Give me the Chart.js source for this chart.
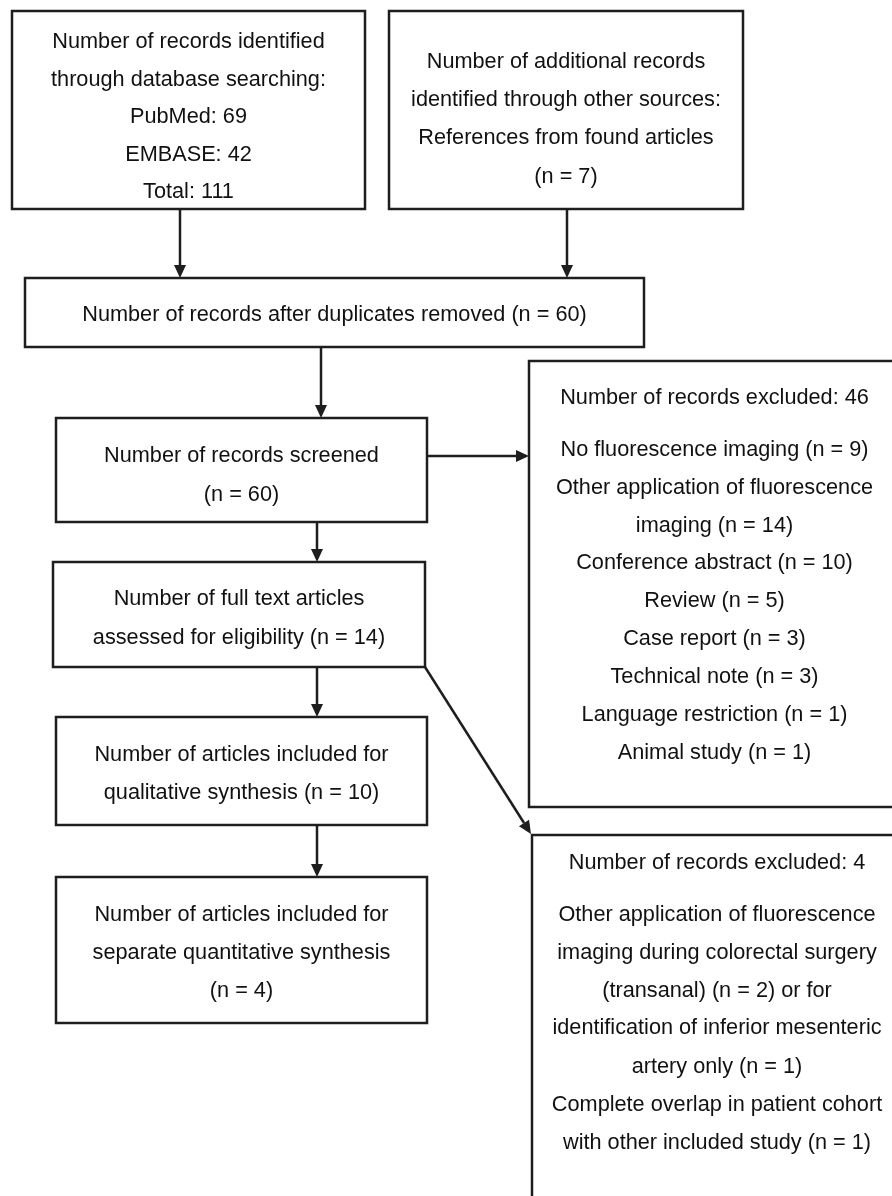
<!DOCTYPE html>
<html>
<head>
<meta charset="utf-8">
<script src="https://cdn.jsdelivr.net/npm/chart.js@4"></script>
<style>
  html, body { margin: 0; padding: 0; background: #fff; }
  #wrap { width: 892px; height: 1196px; }
</style>
</head>
<body>
<div id="wrap"><canvas id="flowChart" width="892" height="1196"></canvas></div>
<script>
// box texts (one entry per printed line)
const identifiedLines = ['Number of records identified', 'through database searching:', 'PubMed: 69', 'EMBASE: 42', 'Total: 111'];
const otherSourceLines = ['Number of additional records', 'identified through other sources:', 'References from found articles', '(n = 7)'];
const dedupLines = ['Number of records after duplicates removed (n = 60)'];
const screenedLines = ['Number of records screened', '(n = 60)'];
const fullTextLines = ['Number of full text articles', 'assessed for eligibility (n = 14)'];
const qualitativeLines = ['Number of articles included for', 'qualitative synthesis (n = 10)'];
const quantitativeLines = ['Number of articles included for', 'separate quantitative synthesis', '(n = 4)'];
const excludedScreenLines = ['Number of records excluded: 46', 'No fluorescence imaging (n = 9)', 'Other application of fluorescence', 'imaging (n = 14)', 'Conference abstract (n = 10)', 'Review (n = 5)', 'Case report (n = 3)', 'Technical note (n = 3)', 'Language restriction (n = 1)', 'Animal study (n = 1)'];
const excludedFullLines = ['Number of records excluded: 4', 'Other application of fluorescence', 'imaging during colorectal surgery', '(transanal) (n = 2) or for', 'identification of inferior mesenteric', 'artery only (n = 1)', 'Complete overlap in patient cohort', 'with other included study (n = 1)'];

// layout in axis units (x: 0..892, y: 0..1196 top-down)
const boxes = [
  { lines: identifiedLines, x0: 12, x1: 365, y0: 11, y1: 209, ys: [42.5, 80, 117.5, 155, 192.5] },
  { lines: otherSourceLines, x0: 389, x1: 743, y0: 11, y1: 209, ys: [62.5, 100.5, 138.5, 177] },
  { lines: dedupLines, x0: 25, x1: 644, y0: 278, y1: 347, ys: [315.5] },
  { lines: screenedLines, x0: 56, x1: 427, y0: 418, y1: 522, ys: [456.5, 495.5] },
  { lines: fullTextLines, x0: 53, x1: 425, y0: 562, y1: 667, ys: [599.5, 638.5] },
  { lines: qualitativeLines, x0: 56, x1: 427, y0: 717, y1: 825, ys: [755.5, 793.5] },
  { lines: quantitativeLines, x0: 56, x1: 427, y0: 877, y1: 1023, ys: [915.5, 953.5, 991.5] },
  { lines: excludedScreenLines, x0: 529, x1: 900, y0: 361, y1: 807, ys: [398.5, 450.5, 488.5, 526.5, 563.5, 601.5, 639.5, 677.5, 715.5, 753.5] },
  { lines: excludedFullLines, x0: 532, x1: 902, y0: 835, y1: 1230, ys: [863.5, 915.5, 953.5, 991.5, 1028.5, 1067, 1105, 1143] }
];

const arrows = [
  [180, 209, 180, 278],
  [567, 209, 567, 278],
  [321, 347, 321, 418],
  [427, 456, 529, 456],
  [317, 522, 317, 562],
  [317, 667, 317, 717],
  [425, 667, 531, 834],
  [317, 825, 317, 877]
];

const flowPlugin = {
  id: 'flow',
  afterDraw(chart) {
    const ctx = chart.ctx;
    const xs = chart.scales.x, ys = chart.scales.y;
    const px = v => xs.getPixelForValue(v);
    const py = v => ys.getPixelForValue(v);
    ctx.save();
    ctx.strokeStyle = '#1e1e1e';
    ctx.fillStyle = '#1e1e1e';
    ctx.lineWidth = 2.5;

    boxes.forEach(b => {
      ctx.strokeRect(px(b.x0), py(b.y0), px(b.x1) - px(b.x0), py(b.y1) - py(b.y0));
    });

    arrows.forEach(a => {
      const x0 = px(a[0]), y0 = py(a[1]), x1 = px(a[2]), y1 = py(a[3]);
      const ang = Math.atan2(y1 - y0, x1 - x0);
      const len = 13, half = 6;
      const bx = x1 - len * Math.cos(ang), by = y1 - len * Math.sin(ang);
      ctx.beginPath();
      ctx.moveTo(x0, y0);
      ctx.lineTo(bx, by);
      ctx.stroke();
      ctx.beginPath();
      ctx.moveTo(x1, y1);
      ctx.lineTo(bx + half * Math.sin(ang), by - half * Math.cos(ang));
      ctx.lineTo(bx - half * Math.sin(ang), by + half * Math.cos(ang));
      ctx.closePath();
      ctx.fill();
    });

    ctx.fillStyle = '#111';
    ctx.font = '21.7px "Liberation Sans", Arial, sans-serif';
    ctx.textAlign = 'center';
    ctx.textBaseline = 'middle';
    boxes.forEach(b => {
      const cx = px((b.x0 + b.x1) / 2);
      b.lines.forEach((t, i) => ctx.fillText(t, cx, py(b.ys[i])));
    });
    ctx.restore();
  }
};

new Chart(document.getElementById('flowChart').getContext('2d'), {
  type: 'scatter',
  data: { datasets: [{ data: [], pointRadius: 0 }] },
  options: {
    responsive: false,
    animation: false,
    devicePixelRatio: 1,
    layout: { padding: 0 },
    plugins: { legend: { display: false }, tooltip: { enabled: false } },
    scales: {
      x: { type: 'linear', min: 0, max: 892, display: false },
      y: { type: 'linear', min: 0, max: 1196, reverse: true, display: false }
    }
  },
  plugins: [flowPlugin]
});
</script>
</body>
</html>
